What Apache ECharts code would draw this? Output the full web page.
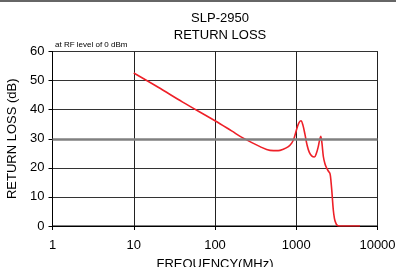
<!DOCTYPE html>
<html>
<head>
<meta charset="utf-8">
<script src="https://cdn.jsdelivr.net/npm/echarts@6/dist/echarts.min.js"></script>
<style>
  html, body { margin: 0; padding: 0; background: #fff; }
  #main { width: 396px; height: 267px; }
</style>
</head>
<body>
<div id="main"></div>
<script>
// 频率 (MHz) 和回波损耗 (dB)
var freqMHz = [10, 20, 40, 100, 160, 223, 358, 475, 600, 693, 800, 879, 940, 993, 1070, 1143, 1210, 1282, 1360, 1449, 1560, 1668, 1770, 1867, 1940, 2000, 2070, 2155, 2260, 2370, 2480, 2602, 2680, 2754, 2858, 2950, 3022, 3150, 3388, 6090];
var returnLoss = [52.6, 47.7, 42.6, 36.2, 32.7, 30.2, 27.3, 26.0, 25.9, 26.4, 27.3, 28.5, 30.2, 32.5, 35.3, 36.2, 34.6, 31.4, 27.8, 25.3, 24.0, 23.7, 25.0, 27.3, 29.6, 30.8, 28.6, 23.9, 21.3, 19.9, 18.9, 18.0, 15.2, 11.3, 5.5, 2.6, 1.5, 0.4, 0, 0];
var xTicks = [1, 10, 100, 1000, 10000];
var yTicks = [0, 10, 20, 30, 40, 50, 60];

var pts = freqMHz.map(function (f, i) { return [f, returnLoss[i]]; });

var myChart = echarts.init(document.getElementById('main'));

var font = 'Liberation Sans, Arial, sans-serif';

var option = {
    animation: false,
    title: {
        text: 'SLP-2950\nRETURN LOSS',
        left: 215,
        top: 5,
        textAlign: 'center',
        textStyle: { fontFamily: font, fontSize: 13, fontWeight: 'normal', color: '#000', lineHeight: 17 }
    },
    graphic: [
        { type: 'rect', shape: { x: 0, y: 0, width: 396, height: 2 }, style: { fill: '#666' } },
        { type: 'text', left: 55, top: 41, style: { text: 'at RF level of 0 dBm', font: '8px ' + font, fill: '#000' } }
    ],
    grid: {
        left: 52.5, right: 18.5, top: 51.5, bottom: 41,
        outerBoundsMode: 'none',
        containLabel: false,
        show: true, borderColor: '#000', borderWidth: 1, backgroundColor: 'transparent'
    },
    xAxis: {
        type: 'log',
        logBase: 10,
        min: xTicks[0],
        max: xTicks[xTicks.length - 1],
        name: 'FREQUENCY(MHz)',
        nameLocation: 'middle',
        nameGap: 32,
        nameTextStyle: { fontFamily: font, fontSize: 13, color: '#000' },
        axisLine: { lineStyle: { color: '#000', width: 1 } },
        axisTick: { show: true, length: 4, lineStyle: { color: '#000' } },
        minorTick: { show: false },
        axisLabel: {
            fontFamily: font, fontSize: 13, color: '#000', margin: 13,
            formatter: function (v) { return String(v); }
        },
        splitLine: { show: true, lineStyle: { color: '#222', width: 1 } }
    },
    yAxis: {
        type: 'value',
        min: yTicks[0],
        max: yTicks[yTicks.length - 1],
        interval: 10,
        name: 'RETURN LOSS (dB)',
        nameLocation: 'middle',
        nameGap: 28,
        nameTextStyle: { fontFamily: font, fontSize: 13, color: '#000' },
        axisLine: { show: true, lineStyle: { color: '#000', width: 1 } },
        axisTick: { show: true, length: 4, lineStyle: { color: '#000' } },
        axisLabel: { fontFamily: font, fontSize: 13, color: '#000', margin: 8 },
        splitLine: { show: true, lineStyle: { color: '#333', width: 1 } }
    },
    series: [{
        type: 'line',
        data: [],
        z: 1,
        markLine: {
            silent: true,
            symbol: 'none',
            label: { show: false },
            lineStyle: { color: '#808080', width: 2.5, type: 'solid' },
            data: [{ yAxis: 30 }]
        }
    }, {
        type: 'line',
        data: pts,
        smooth: 0.35,
        symbol: 'none',
        lineStyle: { color: '#ee2028', width: 1.6 },
        z: 3
    }]
};

myChart.setOption(option);
</script>
</body>
</html>
